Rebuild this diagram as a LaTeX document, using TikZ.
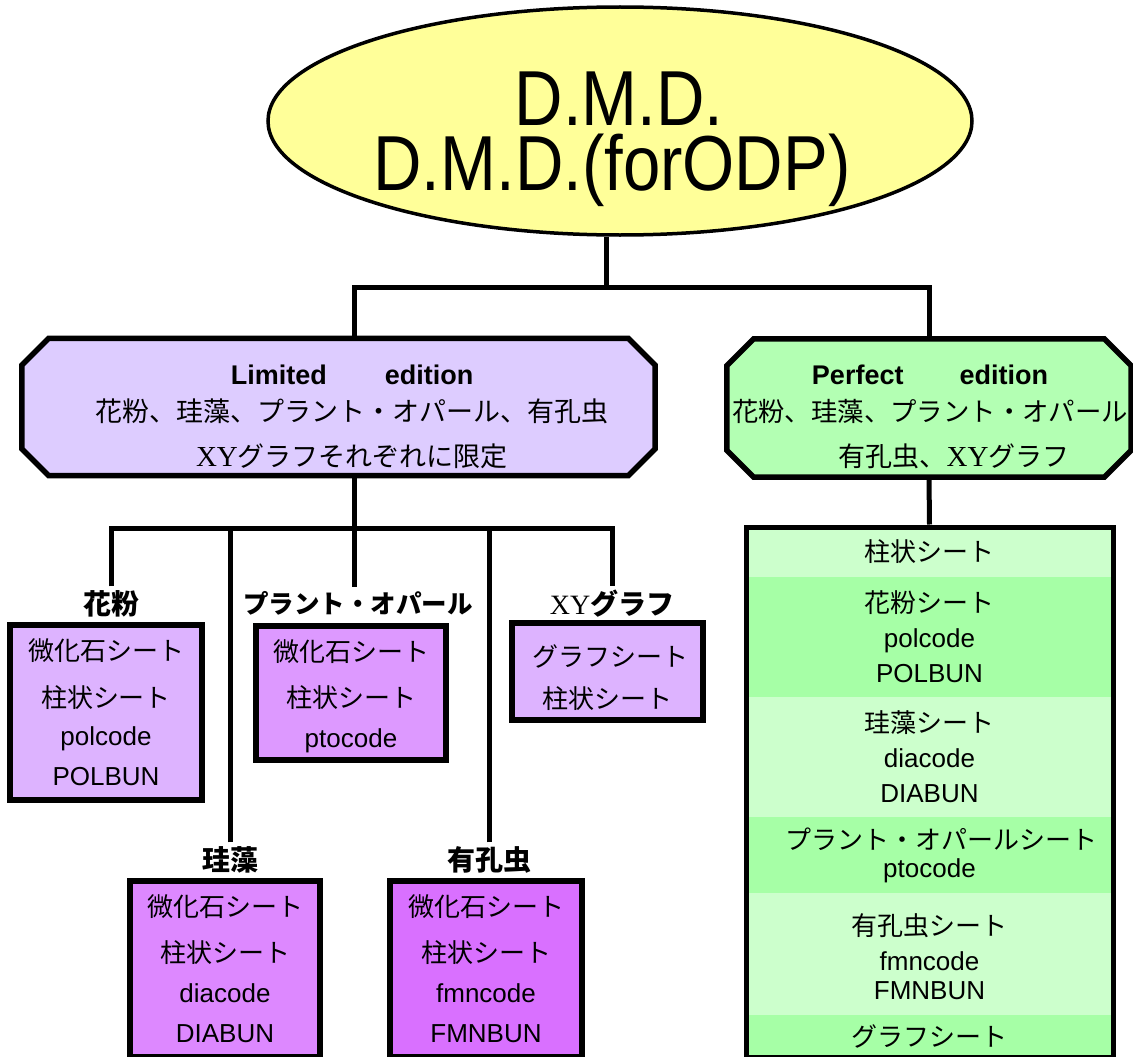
\documentclass[tikz,border=0pt]{standalone}
\usepackage{fontspec}
\setmainfont{Liberation Sans}
\newfontfamily\cjk{Noto Sans CJK JP}
\newfontfamily\xyf{Liberation Serif}
\newfontfamily\ttlf[FakeStretch=0.86]{Liberation Sans}
\usetikzlibrary{shapes.geometric,calc}
\newcommand\jp[1]{{\cjk #1}}
\definecolor{ellc}{HTML}{FFFF99}
\definecolor{limc}{HTML}{DDCCFF}
\definecolor{perfc}{HTML}{B3FFB3}
\definecolor{bxa}{HTML}{DDB3FF}
\definecolor{bxb}{HTML}{DD99FF}
\definecolor{bxc}{HTML}{DD88FF}
\definecolor{bxd}{HTML}{D970FF}
\definecolor{stl}{HTML}{CCFFCC}
\definecolor{std}{HTML}{A6FFA6}
\begin{document}
\begin{tikzpicture}[x=1pt,y=-1pt,
  conn/.style={line width=5pt},
  frame/.style={draw=none,rectangle,inner sep=0pt},
  chamf/.style={draw,line width=5.5pt},
  sbox/.style={draw,line width=5.5pt,rectangle,inner sep=0pt,align=center,font=\fontsize{26}{40}\selectfont},
  lab/.style={inner sep=4pt,font=\fontsize{28}{30}\selectfont\bfseries},
  txt/.style={inner sep=0pt,align=center},
  ttlstyle/.style={inner sep=0pt,font=\ttlf\fontsize{78}{64}\selectfont},
  stripe/.style={rectangle,inner sep=0pt,minimum width=367pt,align=center,font=\fontsize{26}{35}\selectfont}
]
\useasboundingbox[fill=white] (0,0) rectangle (1133,1057);

% top ellipse
\node[ellipse,draw,line width=3.5pt,fill=ellc,minimum width=704pt,minimum height=228pt,inner sep=0pt] (ell) at (620,121) {};
\node[ttlstyle,anchor=base] (ttl1) at (619,125) {D.M.D.};
\node[ttlstyle,anchor=base] (ttl2) at (612,190) {D.M.D.(forODP)};

% edition boxes (frames + chamfered outline)
\node[frame,minimum width=633pt,minimum height=137pt] (lim) at (338.5,407) {};
\node[frame,minimum width=404pt,minimum height=138pt] (perf) at (929,408) {};
\foreach \n/\c in {lim/limc,perf/perfc}{
  \filldraw[chamf,fill=\c]
    ($(\n.north west)+(27,0)$) -- ($(\n.north east)+(-27,0)$) --
    ($(\n.north east)+(0,27)$) -- ($(\n.south east)+(0,-27)$) --
    ($(\n.south east)+(-27,0)$) -- ($(\n.south west)+(27,0)$) --
    ($(\n.south west)+(0,-27)$) -- ($(\n.north west)+(0,27)$) -- cycle;
}
\node[txt,font=\fontsize{27}{37}\selectfont] (limtxt) at (352,417)
  {{\bfseries Limited\hspace{58pt}edition}\\ \jp{花粉、珪藻、プラント・オパール、有孔虫}\\[8pt] {\xyf\fontsize{29}{37}\selectfont XY}\jp{グラフそれぞれに限定}};
\node[txt,font=\fontsize{27}{37}\selectfont] (perftxt) at (930,417)
  {{\bfseries Perfect\hspace{56pt}edition}\\ {\fontsize{26.4}{37}\selectfont\jp{花粉、珪藻、プラント・オパール}}\\[8pt] \hspace{48pt}\jp{有孔虫、}{\xyf\fontsize{29}{37}\selectfont XY}\jp{グラフ}};

% labels
\node[lab] (l1) at (111,604) {\jp{花粉}};
\node[lab,font=\fontsize{25.5}{30}\selectfont\bfseries] (l2) at (358,603) {\jp{プラント・オパール}};
\node[lab] (l3) at (612,604) {{\xyf\mdseries XY}\jp{グラフ}};
\node[lab] (l4) at (230,860) {\jp{珪藻}};
\node[lab] (l5) at (489,860) {\jp{有孔虫}};

% sheet boxes
\node[sbox,fill=bxa,minimum width=192pt,minimum height=175pt] (b1) at (106,712.5)
  {\jp{微化石シート}\\[7pt]\jp{柱状シート}\\[-2pt]polcode\\POLBUN};
\node[sbox,fill=bxb,minimum width=190pt,minimum height=134pt] (b2) at (351,693)
  {\rule{0pt}{29pt}\jp{微化石シート}\\[6pt]\jp{柱状シート}\\ptocode};
\node[sbox,fill=bxa,minimum width=191pt,minimum height=97pt] (b3) at (607.5,671.5)
  {\rule{0pt}{34pt}\hspace{6pt}\jp{グラフシート}\\[2pt]\jp{柱状シート}};
\node[sbox,fill=bxc,minimum width=190pt,minimum height=176pt] (b4) at (225,969)
  {\jp{微化石シート}\\[6pt]\jp{柱状シート}\\diacode\\DIABUN};
\node[sbox,fill=bxd,minimum width=192pt,minimum height=176pt] (b5) at (486,969)
  {\jp{微化石シート}\\[6pt]\jp{柱状シート}\\fmncode\\FMNBUN};

% perfect edition sheet column
\node[stripe,fill=stl,minimum height=50pt] (s1) at (929.5,552) {\jp{柱状シート}};
\node[stripe,fill=std,minimum height=120pt] (s2) at (929.5,637) {\jp{花粉シート}\\polcode\\POLBUN};
\node[stripe,fill=stl,minimum height=120pt] (s3) at (929.5,757) {\jp{珪藻シート}\\diacode\\DIABUN};
\node[stripe,fill=std,minimum height=76pt] (s4) at (929.5,855) {\hspace{24pt}\jp{プラント・オパールシート}\\[-7pt]ptocode};
\node[stripe,fill=stl,minimum height=122pt] (s5) at (929.5,954) {\rule{0pt}{28pt}\jp{有孔虫シート}\\fmncode\\[-6pt]FMNBUN};
\node[stripe,fill=std,minimum height=42pt] (s6) at (929.5,1036) {\jp{グラフシート}};
\node[draw,line width=5pt,rectangle,inner sep=0pt,minimum width=367pt,minimum height=530pt] (pbox) at (929.5,792) {};

% connectors
\coordinate (trunk) at (606,287);
\coordinate (busa) at (354,287);
\coordinate (busb) at (354,528);
\draw[conn] (trunk |- ell.south) -- (trunk);
\draw[conn] (busa |- lim.north) -- (busa) -- (perf.north |- busa) -- (perf.north);
\draw[conn] (perf.south) -- (pbox.north);
\draw[conn] (busb |- lim.south) -- (busb) -- (busb |- l2.north);
\draw[conn] (l1.north) -- (l1.north |- busb) -- (l3.north |- busb) -- (l3.north);
\draw[conn] (l4.north) -- (l4.north |- busb);
\draw[conn] (l5.north) -- (l5.north |- busb);
\end{tikzpicture}
\end{document}
